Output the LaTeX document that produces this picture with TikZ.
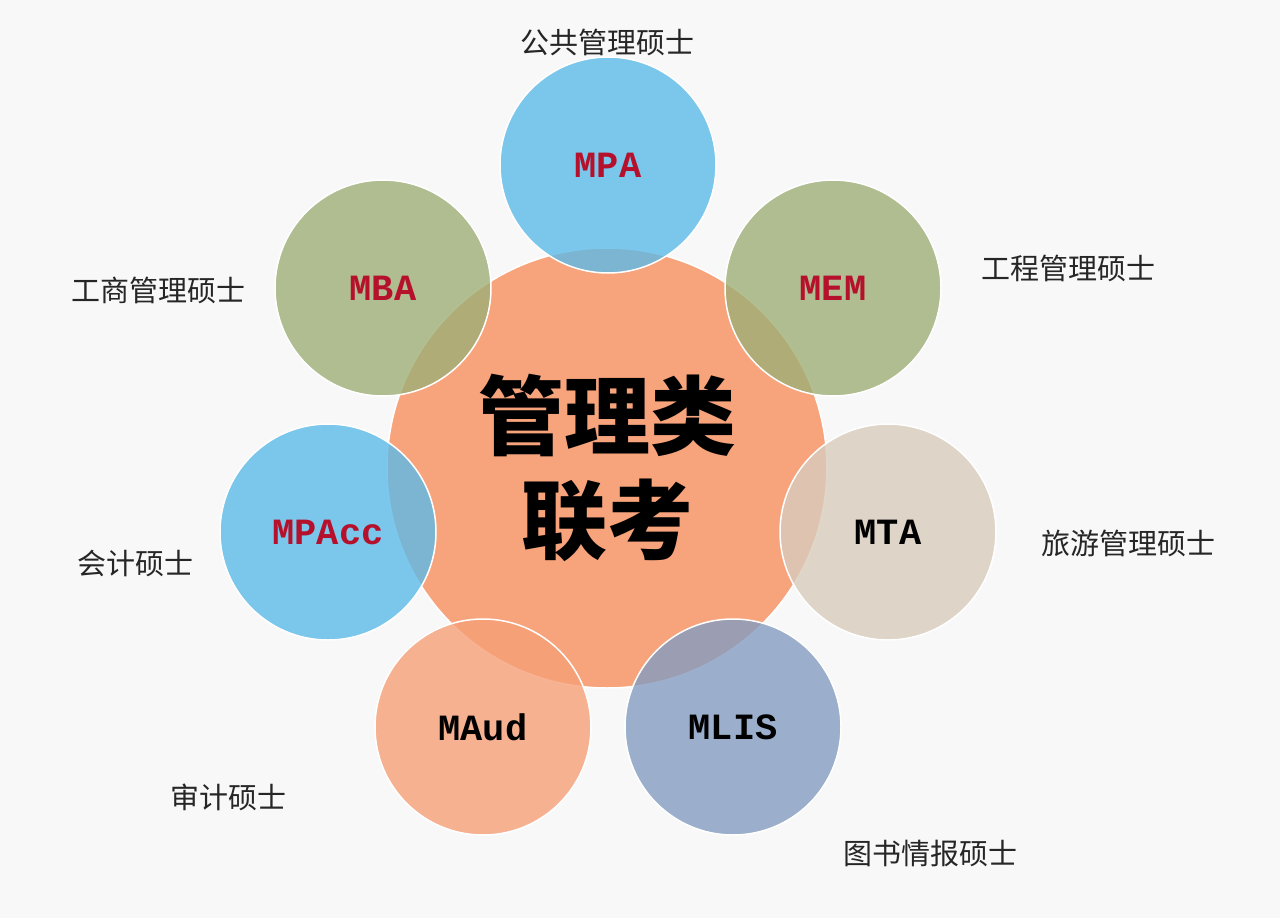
\documentclass[tikz,border=0pt]{standalone}
\usepackage{fontspec}
\newfontfamily\cjk{Noto Sans CJK SC}
\newfontfamily\lab{Liberation Mono}
\definecolor{bgc}{HTML}{F8F8F8}
\definecolor{cen}{HTML}{F7A47C}
\definecolor{cblue}{HTML}{5CBAE8}
\definecolor{cgreen}{HTML}{9EAF76}
\definecolor{cbeige}{HTML}{D8CDBD}
\definecolor{corange}{HTML}{F6A078}
\definecolor{cslate}{HTML}{849CC0}
\definecolor{lred}{HTML}{B5112C}
\tikzset{
 ball/.style={circle,minimum size=216pt,draw=white,line width=1.5pt,fill opacity=0.8,text opacity=1,inner sep=0pt},
 redlab/.style={font=\lab\bfseries\fontsize{37}{37}\selectfont,text=lred},
 blklab/.style={font=\lab\bfseries\fontsize{37}{37}\selectfont,text=black},
 captext/.style={font=\cjk\fontsize{29}{29}\selectfont,text=black!85}
}
\begin{document}
\begin{tikzpicture}[x=1pt,y=-1pt]
\fill[bgc] (0,0) rectangle (1280,918);
\useasboundingbox (0,0) rectangle (1280,918);
\node[circle,minimum size=440pt,fill=cen,draw=white,line width=1.5pt,inner sep=0pt] (c) at (607,468) {};
\node[font=\cjk\bfseries\fontsize{86}{104}\selectfont,align=center] (ct) at (607,468) {管理类\\联考};
\node[ball,fill=cblue] (mpa) at (608,165) {};
\node[ball,fill=cgreen] (mba) at (383,288) {};
\node[ball,fill=cgreen] (mem) at (833,288) {};
\node[ball,fill=cblue] (mpacc) at (328,532) {};
\node[ball,fill=cbeige] (mta) at (888,532) {};
\node[ball,fill=corange] (maud) at (483,727) {};
\node[ball,fill=cslate] (mlis) at (733,727) {};
\node[redlab] at (mpa) {MPA};
\node[redlab] at (mba) {MBA};
\node[redlab] at (mem) {MEM};
\node[redlab] at (mpacc) {MPAcc};
\node[blklab] at (mta) {MTA};
\node[blklab] at (maud) {MAud};
\node[blklab] at (mlis) {MLIS};
\node[captext] (t1) at (607,42) {公共管理硕士};
\node[captext] (t2) at (158,290) {工商管理硕士};
\node[captext] (t3) at (1068,268) {工程管理硕士};
\node[captext] (t4) at (135,563) {会计硕士};
\node[captext] (t5) at (1128,543) {旅游管理硕士};
\node[captext] (t6) at (228,797) {审计硕士};
\node[captext] (t7) at (930,853) {图书情报硕士};
\end{tikzpicture}
\end{document}
